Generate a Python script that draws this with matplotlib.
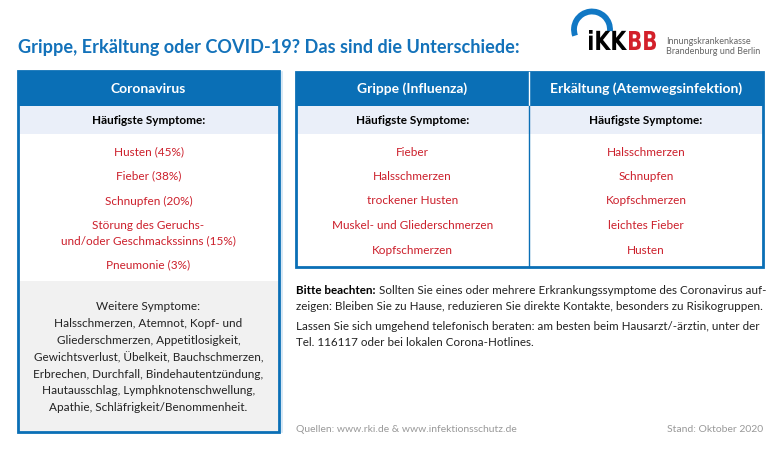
import matplotlib
matplotlib.use("Agg")
import matplotlib.pyplot as plt
from matplotlib.patches import Rectangle, Arc, PathPatch
from matplotlib.textpath import TextPath
from matplotlib.font_manager import FontProperties
from matplotlib.transforms import Affine2D

plt.rcParams['font.family'] = ['Lato', 'DejaVu Sans']

title = "Grippe, Erkältung oder COVID-19? Das sind die Unterschiede:"
columns = ["Coronavirus", "Grippe (Influenza)", "Erkältung (Atemwegsinfektion)"]
subheader = "Häufigste Symptome:"
corona_symptoms = ["Husten (45%)", "Fieber (38%)", "Schnupfen (20%)",
                   "Störung des Geruchs-\nund/oder Geschmackssinns (15%)", "Pneumonie (3%)"]
grippe_symptoms = ["Fieber", "Halsschmerzen", "trockener Husten",
                   "Muskel- und Gliederschmerzen", "Kopfschmerzen"]
erkaeltung_symptoms = ["Halsschmerzen", "Schnupfen", "Kopfschmerzen",
                       "leichtes Fieber", "Husten"]
weitere = ["Weitere Symptome:",
           "Halsschmerzen, Atemnot, Kopf- und",
           "Gliederschmerzen, Appetitlosigkeit,",
           "Gewichtsverlust, Übelkeit, Bauchschmerzen,",
           "Erbrechen, Durchfall, Bindehautentzündung,",
           "Hautausschlag, Lymphknotenschwellung,",
           "Apathie, Schläfrigkeit/Benommenheit."]
hinweis_bold = "Bitte beachten:"
hinweis_lines = [" Sollten Sie eines oder mehrere Erkrankungssymptome des Coronavirus auf-",
                 "zeigen: Bleiben Sie zu Hause, reduzieren Sie direkte Kontakte, besonders zu Risikogruppen."]
hinweis2_lines = ["Lassen Sie sich umgehend telefonisch beraten: am besten beim Hausarzt/-ärztin, unter der",
                  "Tel. 116117 oder bei lokalen Corona-Hotlines."]
quellen = "Quellen: www.rki.de & www.infektionsschutz.de"
stand = "Stand: Oktober 2020"
logo_main = ["iKK", "BB"]
logo_sub = ["Innungskrankenkasse", "Brandenburg und Berlin"]

BLUE = "#0a6fb6"
TITLE_BLUE = "#1372ba"
LIGHT = "#eaeff9"
GRAY_BG = "#f1f1f1"
RED = "#cc1f2b"

fig = plt.figure(figsize=(7.8, 4.5), dpi=100)
ax = fig.add_axes([0, 0, 1, 1])
ax.set_xlim(0, 780)
ax.set_ylim(450, 0)
ax.axis("off")

def rect(x0, y0, x1, y1, **kw):
    ax.add_patch(Rectangle((x0, y0), x1 - x0, y1 - y0, **kw))

def fitted_text(s, x0, x1, ytop, ybase, color):
    tp = TextPath((0, 0), s, size=10, prop=FontProperties(family="DejaVu Sans", weight="bold"))
    ext = tp.get_extents()
    sx = (x1 - x0) / ext.width
    sy = (ybase - ytop) / ext.y1
    tr = Affine2D().translate(-ext.x0, 0).scale(sx, -sy).translate(x0, ybase)
    ax.add_patch(PathPatch(tr.transform_path(tp), color=color, lw=0))

# title
ax.text(18, 47, title, color=TITLE_BLUE, fontsize=13.05, fontweight="bold", va="center", ha="left")

# logo
ax.add_patch(Arc((592, 29.5), 36, 36, theta1=160, theta2=365, color="#1178c4", lw=4.2))
fitted_text(logo_main[0], 589, 627, 30, 50, "black")
fitted_text(logo_main[1], 629, 656, 31, 50, "#d3202a")
ax.text(666, 43.5, logo_sub[0], color="#666666", fontsize=6.5, va="baseline", ha="left")
ax.text(666, 54, logo_sub[1], color="#666666", fontsize=6.5, va="baseline", ha="left")

# left box
L0, L1 = 18, 279
rect(L0, 71, L1, 106, color=BLUE, lw=0)
rect(L0, 106, L1, 134, color=LIGHT, lw=0)
rect(L0, 281, L1, 432, color=GRAY_BG, lw=0)
rect(L0, 71, L1, 432, fill=False, ec=BLUE, lw=2)
ax.plot([281.5, 281.5], [72, 432], color="#cfe4f4", lw=1.2)
ax.text((L0 + L1) / 2, 89, columns[0], color="white", fontsize=10, fontweight="bold", ha="center", va="center")
ax.text((L0 + L1) / 2, 121, subheader, color="black", fontsize=8.5, fontweight="bold", ha="center", va="center")
corona_y = [152, 176, 201, 233.5, 265]
for s, y in zip(corona_symptoms, corona_y):
    ax.text((L0 + L1) / 2, y, s, color=RED, fontsize=8.5, ha="center", va="center", linespacing=1.45)
for i, s in enumerate(weitere):
    ax.text((L0 + L1) / 2, 307 + i * 16.8, s, color="#222222", fontsize=8.5, ha="center", va="center")

# right box
R0, RM, R1 = 296, 529, 763
rect(R0, 72, R1, 106, color=BLUE, lw=0)
rect(R0, 106, R1, 134, color=LIGHT, lw=0)
rect(R0, 72, R1, 267, fill=False, ec=BLUE, lw=2)
ax.plot([RM, RM], [72, 106], color="white", lw=1)
ax.plot([RM, RM], [106, 267], color=BLUE, lw=1)
for cx, head, items in [((R0 + RM) / 2, columns[1], grippe_symptoms),
                        ((RM + R1) / 2, columns[2], erkaeltung_symptoms)]:
    ax.text(cx, 89, head, color="white", fontsize=10, fontweight="bold", ha="center", va="center")
    ax.text(cx, 121, subheader, color="black", fontsize=8.5, fontweight="bold", ha="center", va="center")
    for j, s in enumerate(items):
        ax.text(cx, 152 + j * 24.5, s, color=RED, fontsize=8.5, ha="center", va="center")

# notes
FS = 8.35
t = ax.text(296, 290, hinweis_bold, color="black", fontsize=FS, fontweight="bold", ha="left", va="center")
fig.canvas.draw()
bb = t.get_window_extent()
xend = ax.transData.inverted().transform((bb.x1, bb.y0))[0]
ax.text(xend, 290, hinweis_lines[0], color="#222222", fontsize=FS, ha="left", va="center")
ax.text(296, 306, hinweis_lines[1], color="#222222", fontsize=FS, ha="left", va="center")
ax.text(296, 327, hinweis2_lines[0], color="#222222", fontsize=FS, ha="left", va="center")
ax.text(296, 343, hinweis2_lines[1], color="#222222", fontsize=FS, ha="left", va="center")

ax.text(296, 430, quellen, color="#999999", fontsize=7.5, ha="left", va="center")
ax.text(763, 430, stand, color="#999999", fontsize=7.5, ha="right", va="center")

fig.savefig("out.png", dpi=100, facecolor="white")
